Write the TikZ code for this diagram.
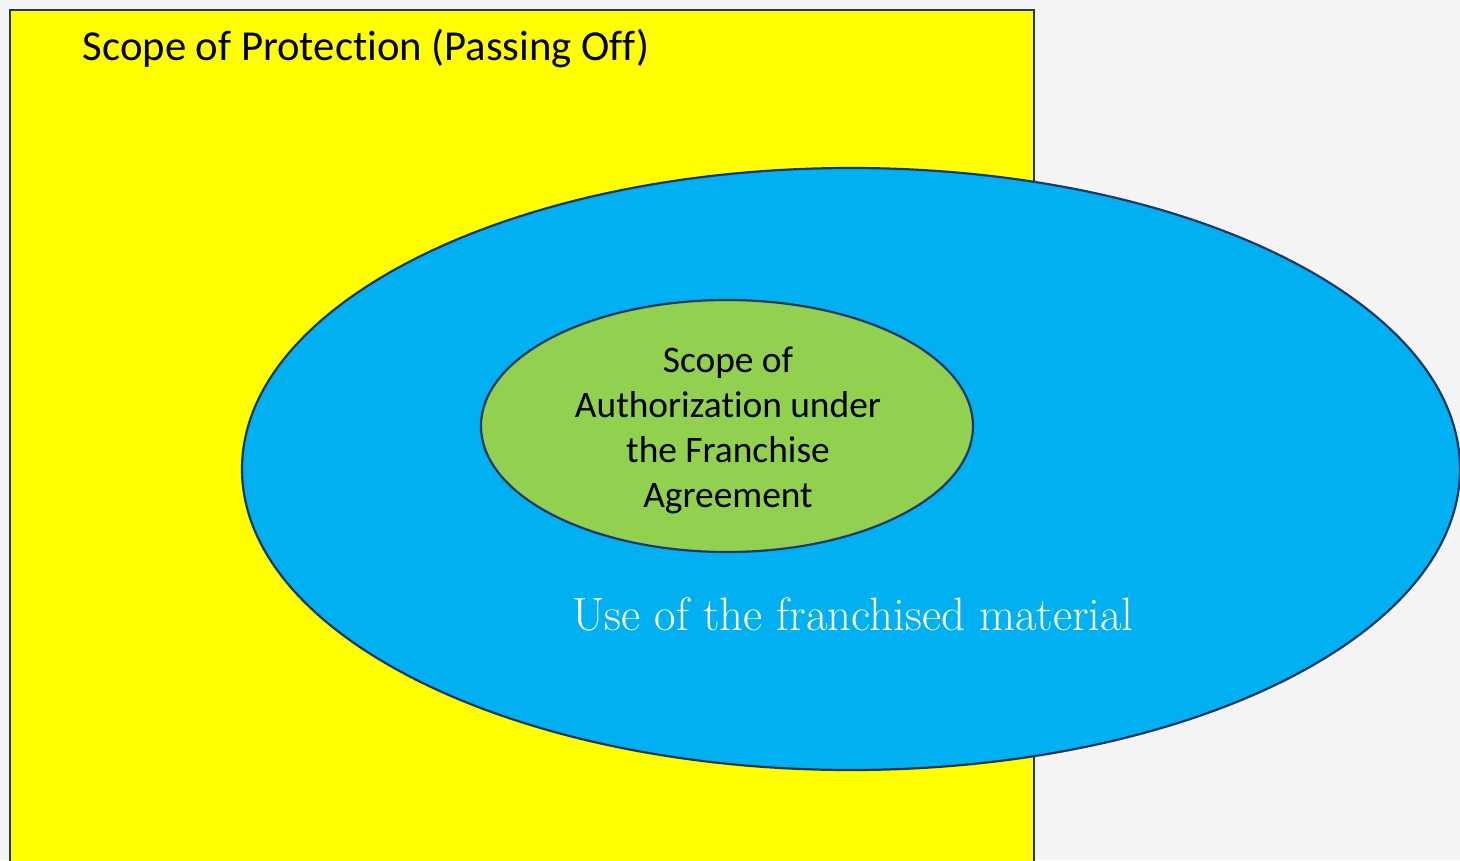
\documentclass[tikz,border=0pt]{standalone}
\usepackage{fontspec}
\newfontfamily\calibri[Ligatures=NoCommon]{Carlito}
\usetikzlibrary{shapes.geometric}
\definecolor{bgc}{HTML}{F4F4F4}
\definecolor{navy}{HTML}{1F3864}
\definecolor{ylw}{HTML}{FFFF00}
\definecolor{sky}{HTML}{00B0F0}
\definecolor{lime}{HTML}{92D050}
\tikzset{
  outline/.style={draw=navy, line width=2.2pt},
  oval/.style={ellipse, outline, inner sep=0pt}
}
\begin{document}
\begin{tikzpicture}[x=1pt,y=-1pt]
\useasboundingbox (0,0) rectangle (1460,860);
\fill[bgc] (0,0) rectangle (1460,860);
\clip (0,0) rectangle (1460,860);
\draw[outline, fill=ylw] (10,10) rectangle (1034,880);
\node[anchor=center, font=\calibri\fontsize{42.7}{50}\selectfont] (title) at (366,49) {Scope of Protection (Passing Off)};
\node[oval, fill=sky, minimum width=1218pt, minimum height=602pt] (use) at (851,469) {};
\node[oval, fill=lime, minimum width=492pt, minimum height=252pt] (auth) at (727,426) {};
\node[align=center, font=\calibri\fontsize{37.4}{45}\selectfont] (authtext) at (728,430) {Scope of\\Authorization under\\the Franchise\\Agreement};
\node[text=white, font=\fontsize{46.8}{52}\selectfont] (usetext) at (853,614) {Use of the franchised material};
\end{tikzpicture}
\end{document}
